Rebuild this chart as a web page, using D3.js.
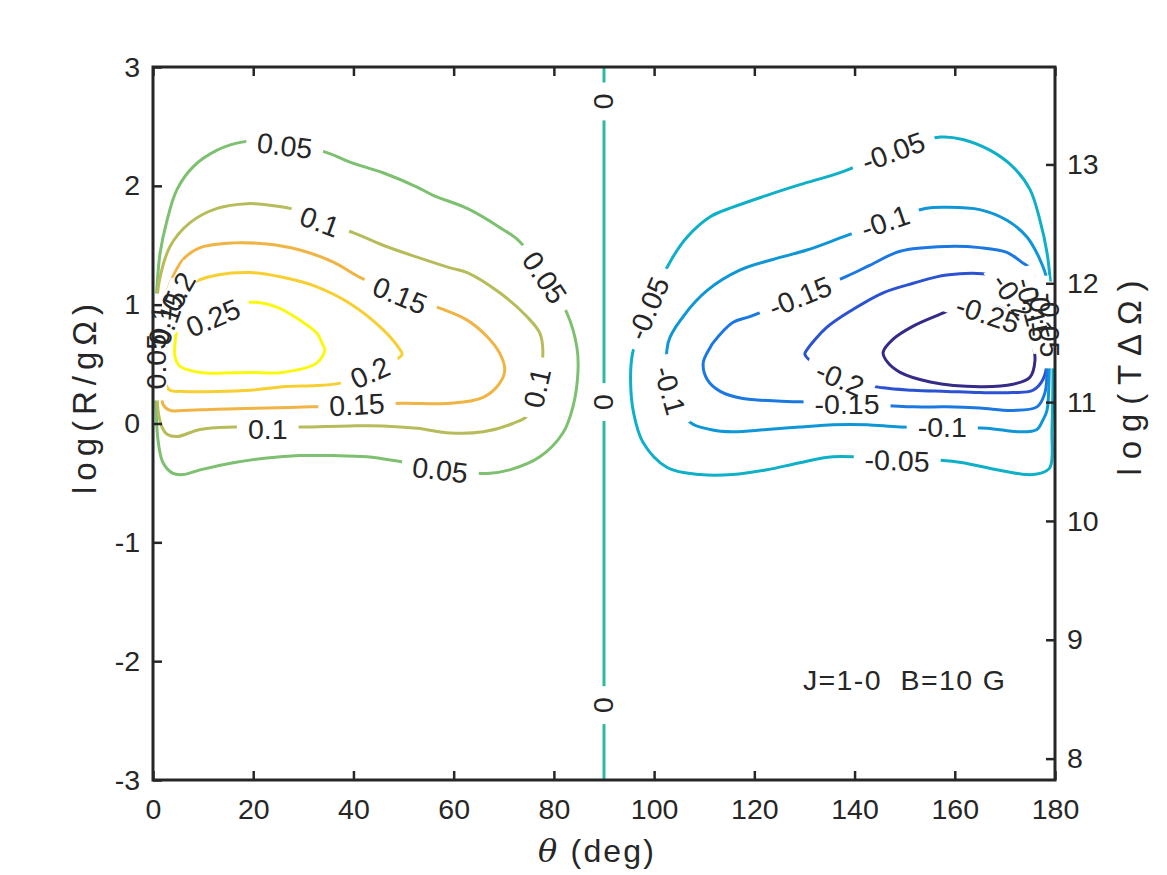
<!DOCTYPE html>
<html>
<head>
<meta charset="utf-8">
<script src="https://cdn.jsdelivr.net/npm/d3@7"></script>
<style>
body { margin: 0; background: #fff; }
text { font-family: "Liberation Sans", Arial, Helvetica, sans-serif; fill: #262626; }
</style>
</head>
<body>
<svg id="chart" width="1167" height="875"></svg>
<script>
var width = 1167, height = 875;

// axes / ticks
var xTicks = [0, 20, 40, 60, 80, 100, 120, 140, 160, 180];
var yTicks = [-3, -2, -1, 0, 1, 2, 3];
var rightTicks = [8, 9, 10, 11, 12, 13];
var rightOffset = 10.82;   // log(TΔΩ) - log(R/gΩ)

var levels = [-0.25, -0.2, -0.15, -0.1, -0.05, 0, 0.05, 0.1, 0.15, 0.2, 0.25];
var levelColors = ["#352a87", "#2a52d2", "#1a78e0", "#0f96d6", "#0eb0c8", "#2fb9a0",
                   "#7dc070", "#b7bc5a", "#efb443", "#f8cf30", "#f9f90f"];

// contour lines, [theta (deg), log(R/gΩ)]
var cPos25 = [[19.4,1.02],[24.7,0.98],[29.3,0.87],[32.7,0.76],[33.9,0.66],[34.3,0.62],[32.7,0.51],
  [25.9,0.43],[19.4,0.43],[9.4,0.43],[5.4,0.48],[4.4,0.56],[4.4,0.68],[4.8,0.76],[12.0,0.90]];
var cPos20 = [[2.0,0.45],[2.4,0.34],[3.4,0.28],[6.0,0.27],[12.8,0.27],[19.4,0.28],[25.9,0.31],
  [32.7,0.32],[37.3,0.34],[43.5,0.43],[49.7,0.58],[49.3,0.62],[45.9,0.79],[39.3,1.01],[32.7,1.15],
  [25.9,1.23],[19.4,1.27],[12.8,1.25],[9.4,1.21],[5.0,1.11],[3.0,1.00],[2.2,0.79],[2.0,0.62]];
var cPos15 = [[3.4,1.18],[6.0,1.38],[9.4,1.48],[16.0,1.52],[22.7,1.51],[29.3,1.46],[35.9,1.36],
  [41.3,1.23],[49.3,1.08],[57.9,0.96],[62.7,0.87],[66.7,0.73],[69.2,0.59],[70.2,0.45],[69.2,0.34],
  [65.9,0.22],[59.3,0.17],[49.3,0.17],[40.7,0.15],[31.3,0.14],[22.7,0.13],[12.8,0.12],[6.0,0.11],
  [3.4,0.11],[2.0,0.16],[1.8,0.22],[1.6,0.45],[1.8,0.79],[2.4,1.04]];
var cPos10 = [[0.8,1.04],[1.4,1.23],[3.4,1.49],[7.4,1.69],[12.8,1.81],[18.8,1.85],[22.7,1.84],
  [27.3,1.81],[33.3,1.71],[40.3,1.60],[45.9,1.50],[52.7,1.40],[59.3,1.31],[62.7,1.27],[69.2,1.10],
  [74.6,0.90],[77.2,0.76],[77.8,0.60],[76.8,0.30],[74.8,0.07],[71.8,0.00],[65.9,-0.07],[59.3,-0.08],
  [52.7,-0.04],[45.9,-0.02],[39.3,-0.02],[29.7,-0.03],[23.0,-0.03],[16.0,-0.03],[9.4,-0.05],
  [4.8,-0.11],[2.8,-0.09],[1.8,-0.03],[1.0,0.11],[0.8,0.53]];
var cPos05 = [[0.6,0.17],[1.0,-0.14],[2.0,-0.33],[4.0,-0.42],[6.0,-0.43],[9.4,-0.39],[16.0,-0.33],
  [22.7,-0.29],[29.3,-0.27],[35.9,-0.27],[42.7,-0.28],[49.3,-0.32],[57.3,-0.38],[66.7,-0.42],
  [71.2,-0.39],[77.2,-0.28],[81.8,-0.08],[83.8,0.14],[84.8,0.43],[84.6,0.64],[82.6,0.93],[78.2,1.23],
  [73.2,1.53],[69.2,1.65],[62.7,1.81],[55.9,1.92],[52.7,1.99],[45.9,2.11],[39.3,2.20],[34.7,2.28],
  [26.3,2.36],[18.0,2.37],[12.8,2.30],[8.0,2.16],[4.8,1.97],[2.8,1.71],[1.4,1.43],[0.8,1.15],
  [0.6,0.98],[0.5,0.60]];
var cZero = [[90,-3],[90,3]];
var cNeg05 = [[95.7,0.59],[95.3,0.37],[95.9,0.09],[97.8,-0.16],[102.6,-0.37],[109.2,-0.43],
  [115.7,-0.43],[122.5,-0.39],[129.1,-0.33],[135.7,-0.28],[147.7,-0.30],[157.1,-0.31],[161.6,-0.33],
  [168.4,-0.39],[174.4,-0.43],[177.0,-0.42],[179.0,-0.37],[179.4,-0.05],[179.6,0.62],[179.4,1.04],
  [179.0,1.23],[178.4,1.44],[177.0,1.71],[175.0,1.97],[171.6,2.16],[167.0,2.30],[161.6,2.39],
  [157.1,2.41],[147.7,2.30],[137.7,2.12],[129.1,2.01],[122.5,1.92],[115.7,1.82],[111.2,1.74],
  [106.6,1.57],[103.6,1.39],[98.8,0.97]];
var cNeg10 = [[102.8,0.68],[105.8,0.90],[110.6,1.12],[117.1,1.29],[123.7,1.38],[130.5,1.46],
  [137.7,1.57],[146.1,1.70],[154.1,1.81],[158.4,1.82],[165.0,1.80],[170.4,1.71],[174.4,1.57],
  [177.0,1.38],[178.4,1.21],[178.8,0.87],[178.8,0.37],[178.4,0.11],[177.6,0.03],[176.4,-0.05],
  [173.0,-0.07],[166.4,-0.04],[157.5,-0.03],[149.1,-0.03],[142.5,-0.01],[135.7,-0.01],[129.1,-0.03],
  [122.5,-0.05],[115.7,-0.07],[111.2,-0.05],[107.2,0.01],[103.2,0.30]];
var cNeg15 = [[119.1,0.90],[115.7,0.85],[111.8,0.68],[111.2,0.64],[109.8,0.51],[110.6,0.37],
  [113.2,0.27],[117.7,0.21],[124.5,0.19],[131.1,0.18],[138.5,0.17],[151.7,0.14],[158.4,0.14],
  [165.0,0.13],[171.6,0.11],[176.4,0.14],[178.0,0.26],[178.4,0.53],[178.0,0.87],[176.0,1.21],
  [175.0,1.31],[173.6,1.35],[170.4,1.44],[165.0,1.48],[158.4,1.49],[149.1,1.45],[143.0,1.33],
  [138.5,1.24],[129.1,1.07]];
var cNeg20 = [[130.1,0.58],[130.5,0.62],[134.5,0.81],[139.7,0.96],[145.7,1.10],[151.7,1.18],
  [158.4,1.25],[167.6,1.25],[173.0,1.17],[176.4,1.00],[177.6,0.79],[178.4,0.53],[177.6,0.37],
  [175.6,0.28],[171.6,0.26],[165.0,0.26],[158.4,0.27],[151.7,0.28],[145.7,0.30],[137.1,0.38]];
var cNeg25 = [[157.1,0.92],[151.7,0.82],[147.7,0.71],[145.7,0.60],[146.5,0.52],[149.1,0.43],
  [155.1,0.35],[165.0,0.31],[171.6,0.33],[175.0,0.39],[176.0,0.53],[175.6,0.67],[174.2,0.85],
  [169.0,0.97],[162.0,1.00]];

var contourLines = [
  {level: -0.25, pts: cNeg25}, {level: -0.2, pts: cNeg20}, {level: -0.15, pts: cNeg15},
  {level: -0.1, pts: cNeg10}, {level: -0.05, pts: cNeg05}, {level: 0, pts: cZero, open: true},
  {level: 0.05, pts: cPos05}, {level: 0.1, pts: cPos10}, {level: 0.15, pts: cPos15},
  {level: 0.2, pts: cPos20}, {level: 0.25, pts: cPos25}
];

// inline contour labels: text, theta, logR, angle
var labelText  = ["0.05","0.05","0.05","0.1","0.1","0.1","0.15","0.15","0.2","0.25",
                  "0","0","0",
                  "-0.05","-0.1","-0.15","-0.2","-0.25","-0.15","-0.1","-0.05","-0.05","-0.1",
                  "0.2","0.15","0.1","0.05","-0.2","-0.15","-0.1","-0.05"];
var labelTheta = [26.3, 78.2, 57.3, 33.3, 76.6, 22.9, 49.3, 40.7, 43.3, 12.0,
                  90, 90, 90,
                  147.7, 146.1, 129.1, 137.1, 166.6, 138.5, 157.5, 148.5, 98.8, 103.2,
                  5.0, 3.0, 1.4, 0.6, 171.6, 175.6, 177.2, 179.0];
var labelLogR  = [2.34, 1.23, -0.39, 1.70, 0.30, -0.04, 1.08, 0.16, 0.43, 0.89,
                  2.71, 0.18, -2.37,
                  2.29, 1.70, 1.07, 0.38, 0.92, 0.17, -0.03, -0.31, 0.97, 0.28,
                  1.11, 0.89, 0.83, 0.52, 1.07, 0.96, 0.94, 0.83];
var labelAngle = [7, 56, 7, 20, -77, 0, 22, -3, -24, -23,
                  90, 90, 90,
                  -20, -19, -22, 23, 18, 0, 0, 2, -67, 74,
                  -60, -70, -85, -90, 55, 75, 85, 90];

var note = "J=1-0\u00a0\u00a0B=10 G";
var noteTheta = 129.7, noteLogR = -2.16;

var x = d3.scaleLinear().domain([0, 180]).range([153, 1055]);
var y = d3.scaleLinear().domain([-3, 3]).range([780, 67]);
var yR = d3.scaleLinear().domain([-3 + rightOffset, 3 + rightOffset]).range([780, 67]);
var color = d3.scaleOrdinal().domain(levels).range(levelColors);

var svg = d3.select("#chart");
var defs = svg.append("defs");

defs.append("clipPath").attr("id", "plotClip")
  .append("rect")
  .attr("x", x(0)).attr("y", y(3))
  .attr("width", x(180) - x(0)).attr("height", y(-3) - y(3));

var labels = svg.append("g").attr("id", "labels");
var labelNodes = labels.selectAll("text")
  .data(labelText.map(function (t, i) {
    return {t: t, px: x(labelTheta[i]), py: y(labelLogR[i]), a: labelAngle[i]};
  }))
  .enter().append("text")
  .attr("text-anchor", "middle")
  .attr("dy", "0.36em")
  .style("font-size", "28.5px")
  .attr("transform", function (d) { return "translate(" + d.px + "," + d.py + ") rotate(" + d.a + ")"; })
  .text(function (d) { return d.t; });

// knock the lines out under each label
var mask = defs.append("mask").attr("id", "labelMask")
  .attr("maskUnits", "userSpaceOnUse")
  .attr("x", 0).attr("y", 0).attr("width", width).attr("height", height);
mask.append("rect").attr("width", width).attr("height", height).attr("fill", "white");
labelNodes.each(function (d) {
  var w = this.getComputedTextLength() + 22;
  var h = 22;
  mask.append("rect")
    .attr("x", -w / 2).attr("y", -h / 2)
    .attr("width", w).attr("height", h)
    .attr("fill", "black")
    .attr("transform", "translate(" + d.px + "," + d.py + ") rotate(" + d.a + ")");
});

var closedLine = d3.line()
  .x(function (d) { return x(d[0]); })
  .y(function (d) { return y(d[1]); })
  .curve(d3.curveCatmullRomClosed.alpha(0.5));
var openLine = d3.line()
  .x(function (d) { return x(d[0]); })
  .y(function (d) { return y(d[1]); });

var plot = svg.insert("g", "#labels")
  .attr("clip-path", "url(#plotClip)")
  .append("g")
  .attr("mask", "url(#labelMask)");

plot.selectAll("path.contour")
  .data(contourLines)
  .enter().append("path")
  .attr("class", "contour")
  .attr("d", function (d) { return d.open ? openLine(d.pts) : closedLine(d.pts); })
  .attr("fill", "none")
  .attr("stroke", function (d) { return color(d.level); })
  .attr("stroke-width", 3)
  .attr("stroke-linejoin", "round");

// axes
var axisColor = "#262626";
var fmt = function (d) { return String(d); };
function styleAxis(g) {
  g.select(".domain").remove();
  g.selectAll(".tick line").attr("stroke", axisColor).attr("stroke-width", 2.5);
  g.selectAll(".tick text").style("font-size", "28.5px").attr("fill", axisColor);
}

svg.append("g")
  .attr("transform", "translate(0," + y(-3) + ")")
  .call(d3.axisBottom(x).tickValues(xTicks).tickFormat(fmt).tickSizeInner(-9).tickSizeOuter(0).tickPadding(19))
  .call(styleAxis);
svg.append("g")
  .attr("transform", "translate(0," + y(3) + ")")
  .call(d3.axisTop(x).tickValues(xTicks).tickSizeInner(-9).tickSizeOuter(0).tickFormat(""))
  .call(styleAxis);
svg.append("g")
  .attr("transform", "translate(" + x(0) + ",0)")
  .call(d3.axisLeft(y).tickValues(yTicks).tickFormat(fmt).tickSizeInner(-9).tickSizeOuter(0).tickPadding(13))
  .call(styleAxis);
svg.append("g")
  .attr("transform", "translate(" + x(180) + ",0)")
  .call(d3.axisRight(yR).tickValues(rightTicks).tickFormat(fmt).tickSizeInner(-9).tickSizeOuter(0).tickPadding(12))
  .call(styleAxis);

svg.append("rect")
  .attr("x", x(0)).attr("y", y(3))
  .attr("width", x(180) - x(0)).attr("height", y(-3) - y(3))
  .attr("fill", "none").attr("stroke", axisColor).attr("stroke-width", 3);

// axis labels
var xl = svg.append("text")
  .attr("x", 596).attr("y", 862)
  .attr("text-anchor", "middle")
  .attr("textLength", 116).attr("lengthAdjust", "spacing")
  .style("font-size", "32px");
xl.append("tspan").style("font-family", "'DejaVu Serif', serif").style("font-style", "italic").text("θ");
xl.append("tspan").text(" (deg)");

svg.append("text")
  .attr("transform", "translate(96,399) rotate(-90)")
  .attr("text-anchor", "middle")
  .attr("textLength", 190).attr("lengthAdjust", "spacing")
  .style("font-size", "33px")
  .text("log(R/gΩ)");

svg.append("text")
  .attr("transform", "translate(1141,378) rotate(-90)")
  .attr("text-anchor", "middle")
  .attr("textLength", 195).attr("lengthAdjust", "spacing")
  .style("font-size", "33px")
  .text("log(TΔΩ)");

svg.append("text")
  .attr("x", x(noteTheta)).attr("y", y(noteLogR))
  .attr("dy", "0.36em")
  .attr("textLength", 202).attr("lengthAdjust", "spacing")
  .style("font-size", "28.5px")
  .text(note);
</script>
</body>
</html>
